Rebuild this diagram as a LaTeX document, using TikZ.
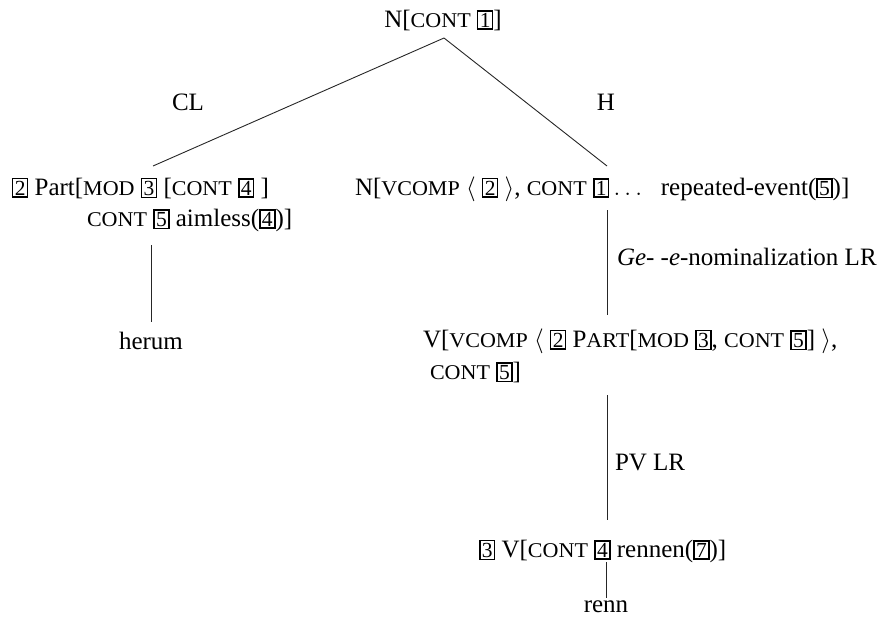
\documentclass[tikz,border=0pt]{standalone}
\usepackage{fontspec}
\setmainfont{Liberation Serif}
\newfontfamily\scfont[FakeStretch=1.05]{Liberation Serif}
\newcommand\sm[1]{{\scfont\fontsize{21}{21}\selectfont #1}}
\newcommand\tg[1]{{\setlength\fboxsep{1.3pt}\setlength\fboxrule{1.5pt}\fbox{\fontsize{21.5}{21.5}\selectfont #1}}}
\newcommand\lang{\ $\big\langle$\ }
\newcommand\rang{\ $\big\rangle$}
\begin{document}
\begin{tikzpicture}[x=1pt,y=-1pt,
  every node/.style={font=\fontsize{25}{30}\selectfont, inner sep=0pt, outer sep=0pt},
  branch/.style={line width=0.9pt, black!85}]
\useasboundingbox (0,0) rectangle (885,619);
% nodes
\node[anchor=base] (top) at (443,27) {N[\sm{CONT} \tg{1}]};
\node[anchor=base] (cl) at (188,110) {CL};
\node[anchor=base] (h) at (606,110) {H};
\node[anchor=base west] (l1) at (12,195) {\tg{2} Part[\sm{MOD} \tg{3} [\sm{CONT} \tg{4} ]};
\node[anchor=base west] (l2) at (87,226) {\sm{CONT} \tg{5} aimless(\tg{4})]};
\node[anchor=base] (herum) at (151,349) {herum};
\node[anchor=base west] (r1) at (355,195) {N[\sm{VCOMP}\lang\tg{2}\rang, \sm{CONT} \tg{1}\,$\ldots$\enspace\ repeated-event(\tg{5})]};
\node[anchor=base west] (lr1) at (617,265) {\textit{Ge}- -\textit{e}-nominalization LR};
\node[anchor=base west] (v1) at (423,347) {V[\sm{VCOMP}\lang\tg{2} P\sm{ART}[\sm{MOD} \tg{3}, \sm{CONT} \tg{5}]\rang,};
\node[anchor=base west] (v2) at (430,379) {\sm{CONT} \tg{5}]};
\node[anchor=base west] (lr2) at (615,470) {PV LR};
\node[anchor=base west] (bot) at (479,557) {\tg{3} V[\sm{CONT} \tg{4} rennen(\tg{7})]};
\node[anchor=base] (renn) at (606,612) {renn};
% connector end points
\coordinate (apex) at (444,38);
\coordinate (lend) at (153,166);
\coordinate (rend) at (607,166);
\coordinate (ha) at (151,245);
\coordinate (hb) at (151,322);
\coordinate (ra) at (607,210);
\coordinate (rb) at (607,315);
\coordinate (va) at (607,395);
\coordinate (vb) at (607,520);
\coordinate (ba) at (606,562);
\coordinate (bb) at (606,598);
\draw[branch] (apex) -- (lend);
\draw[branch] (apex) -- (rend);
\draw[branch] (ha) -- (hb);
\draw[branch] (ra) -- (rb);
\draw[branch] (va) -- (vb);
\draw[branch] (ba) -- (bb);
\end{tikzpicture}
\end{document}
